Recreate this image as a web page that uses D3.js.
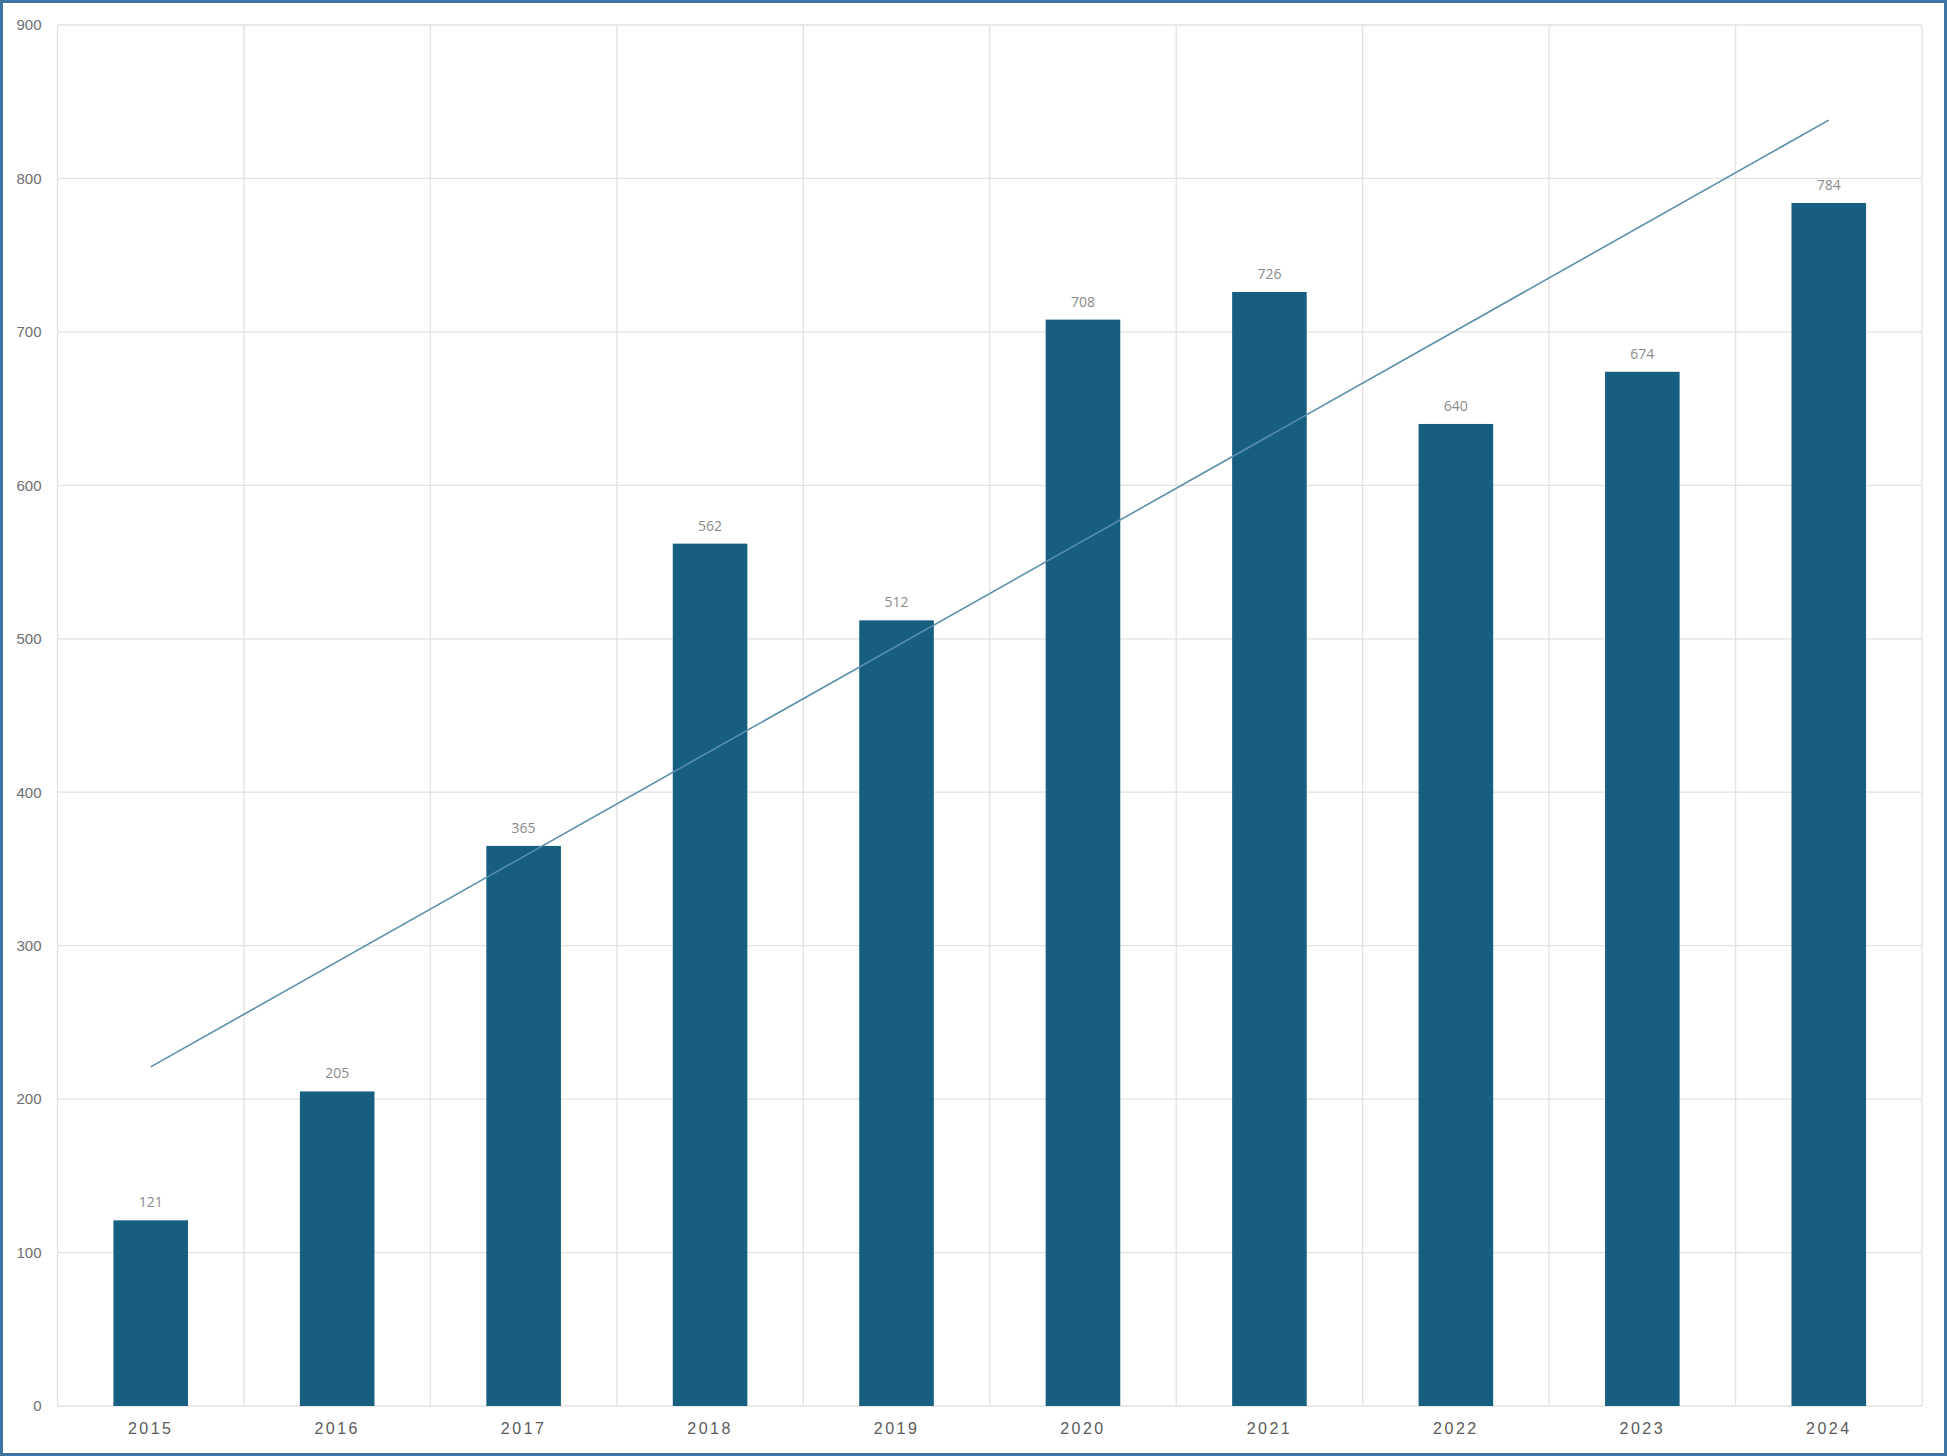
<!DOCTYPE html>
<html>
<head>
<meta charset="utf-8">
<script src="https://cdn.jsdelivr.net/npm/d3@7"></script>
<style>
  body { margin: 0; background: #fff; }
  svg { display: block; font-family: "Open Sans", "Liberation Sans", sans-serif; }
</style>
</head>
<body>
<svg id="chart"></svg>
<script>
var years = ['2015', '2016', '2017', '2018', '2019', '2020', '2021', '2022', '2023', '2024'];
var counts = [121, 205, 365, 562, 512, 708, 726, 640, 674, 784];
var yTicks = [0, 100, 200, 300, 400, 500, 600, 700, 800, 900];
// trend line ends
var trendYears = ['2015', '2024'];
var trendValues = [221, 838];

var width = 1947, height = 1456;
var margin = { top: 25, right: 25, bottom: 50, left: 57.5 };

var svg = d3.select('#chart').attr('width', width).attr('height', height);

svg.append('rect')
	.attr('x', 1.5).attr('y', 1.5)
	.attr('width', width - 3).attr('height', height - 3)
	.attr('fill', '#fff')
	.attr('stroke', '#3e74a4')
	.attr('stroke-width', 3);

var x = d3.scaleBand()
	.domain(years)
	.range([margin.left, width - margin.right])
	.paddingInner(0.6)
	.paddingOuter(0.3);

var y = d3.scaleLinear()
	.domain([0, 900])
	.range([height - margin.bottom, margin.top]);

var step = x.step();

// horizontal grid
svg.append('g').selectAll('line').data(yTicks).enter()
	.append('line')
	.attr('x1', margin.left).attr('x2', width - margin.right)
	.attr('y1', function (d) { return y(d); })
	.attr('y2', function (d) { return y(d); })
	.attr('stroke', '#e2e2e2')
	.attr('stroke-width', 1.3);

// vertical grid (category edges)
var edges = [margin.left].concat(years.map(function (d) { return x(d) - step * 0.3 + step; }));
svg.append('g').selectAll('line').data(edges).enter()
	.append('line')
	.attr('x1', function (d) { return d; })
	.attr('x2', function (d) { return d; })
	.attr('y1', y(900)).attr('y2', y(0))
	.attr('stroke', '#e2e2e2')
	.attr('stroke-width', 1.3);

// y axis labels
var yAxis = d3.axisLeft(y).tickValues(yTicks).tickSize(0).tickPadding(16);
var gy = svg.append('g').attr('transform', 'translate(' + margin.left + ',0)').call(yAxis);
gy.select('.domain').remove();
gy.selectAll('text')
	.attr('fill', '#6e6e6e')
	.style('font-size', '15px');

// x axis labels
var xAxis = d3.axisBottom(x).tickSize(0).tickPadding(17);
var gx = svg.append('g').attr('transform', 'translate(0,' + y(0) + ')').call(xAxis);
gx.select('.domain').remove();
gx.selectAll('text')
	.attr('fill', '#5a5a5a')
	.style('font-size', '16px')
	.style('letter-spacing', '2.5px');

// bars
svg.append('g').selectAll('rect').data(counts).enter()
	.append('rect')
	.attr('x', function (d, i) { return x(years[i]); })
	.attr('y', function (d) { return y(d); })
	.attr('width', x.bandwidth())
	.attr('height', function (d) { return y(0) - y(d); })
	.attr('fill', '#165f80');

// value labels
svg.append('g').selectAll('text').data(counts).enter()
	.append('text')
	.attr('x', function (d, i) { return x(years[i]) + x.bandwidth() / 2; })
	.attr('y', function (d) { return y(d) - 13; })
	.attr('text-anchor', 'middle')
	.attr('fill', '#8a8a8a')
	.style('font-size', '14px')
	.text(function (d) { return d; });

// trend line
var line = d3.line()
	.x(function (d, i) { return x(trendYears[i]) + x.bandwidth() / 2; })
	.y(function (d) { return y(d); });
svg.append('path')
	.datum(trendValues)
	.attr('d', line)
	.attr('fill', 'none')
	.attr('stroke', '#5a8fab')
	.attr('stroke-width', 1.6);
</script>
</body>
</html>
